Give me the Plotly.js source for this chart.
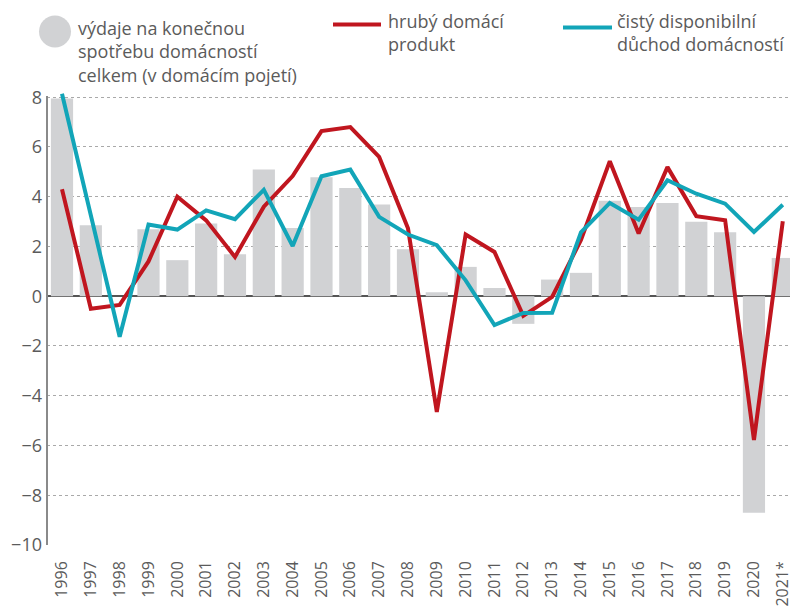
<!DOCTYPE html>
<html>
<head>
<meta charset="utf-8">
<script src="https://cdn.plot.ly/plotly-3.0.1.min.js"></script>
<style>
html,body{margin:0;padding:0;background:#fff;}
#chart{width:790px;height:606px;}
</style>
</head>
<body>
<div id="chart"></div>
<script>
const years = ['1996','1997','1998','1999','2000','2001','2002','2003','2004','2005','2006','2007','2008','2009','2010','2011','2012','2013','2014','2015','2016','2017','2018','2019','2020','2021*'];
const spending = [7.95, 2.85, 0, 2.69, 1.45, 2.92, 1.69, 5.09, 2.74, 4.78, 4.35, 3.69, 1.89, 0.16, 1.18, 0.33, -1.11, 0.67, 0.94, 3.84, 3.59, 3.75, 2.99, 2.57, -8.7, 1.54];
const gdp = [4.3, -0.5, -0.35, 1.4, 4.0, 3.05, 1.58, 3.6, 4.83, 6.64, 6.8, 5.6, 2.73, -4.65, 2.48, 1.78, -0.79, -0.03, 2.26, 5.43, 2.52, 5.19, 3.22, 3.05, -5.78, 3.01];
const income = [8.14, 3.25, -1.63, 2.88, 2.68, 3.45, 3.1, 4.28, 2.02, 4.82, 5.09, 3.19, 2.48, 2.05, 0.64, -1.16, -0.67, -0.66, 2.57, 3.75, 3.08, 4.66, 4.12, 3.72, 2.58, 3.68];
const yTicks = [-10, -8, -6, -4, -2, 0, 2, 4, 6, 8];

const legendSpending = 'výdaje na konečnou<br>spotřebu domácností<br>celkem (v domácím pojetí)';
const legendGdp = 'hrubý domácí<br>produkt';
const legendIncome = 'čistý disponibilní<br>důchod domácností';

const grey = '#d1d2d4';
const red = '#c0161f';
const cyan = '#12a5b8';
const txt = '#5b5b5b';
const FONT = 'Open Sans, sans-serif';

const traces = [
  {type:'bar', x: years, y: spending, marker:{color: grey}, showlegend:false, hoverinfo:'skip'},
  {type:'scatter', mode:'lines', x: years, y: gdp, line:{color: red, width:4}, showlegend:false, hoverinfo:'skip'},
  {type:'scatter', mode:'lines', x: years, y: income, line:{color: cyan, width:4}, showlegend:false, hoverinfo:'skip'}
];

// pixel helpers for legend placement
const L = 47, R = 790, T = 90.5, B = 545;
const px = v => (v - L) / (R - L);
const py = v => (B - v) / (B - T);

const layout = {
  width: 790, height: 606,
  margin: {l: L, r: 790 - R, t: T, b: 606 - B},
  paper_bgcolor: '#fff', plot_bgcolor: '#fff',
  font: {family: FONT, color: txt},
  bargap: 0.23,
  showlegend: false,
  hovermode: false,
  xaxis: {
    type: 'category',
    range: [-0.52, 25.25],
    tickangle: -90,
    tickfont: {size: 16, color: txt, family: FONT},
    showgrid: false, zeroline: false, showline: false,
    ticks: '', ticklabelstandoff: 12
  },
  yaxis: {
    range: [-10, 8.25],
    tickvals: yTicks,
    ticktext: yTicks.map(v => v < 0 ? '\u2212' + Math.abs(v) : String(v)),
    tickfont: {size: 18, color: txt, family: FONT},
    showgrid: true, gridcolor: '#a9a9a9', griddash: 'dot', gridwidth: 1,
    zeroline: true, zerolinecolor: '#555', zerolinewidth: 1.5,
    showline: false, ticks: '', ticklabelstandoff: 4
  },
  shapes: [
    {type:'line', xref:'paper', yref:'y', x0:0, x1:0, y0:-10, y1:8.05, line:{color:'#8a8a8a', width:2}},
    {type:'circle', xref:'paper', yref:'paper', x0:px(39), x1:px(71), y0:py(47), y1:py(15), fillcolor: grey, line:{width:0}},
    {type:'line', xref:'paper', yref:'paper', x0:px(333), x1:px(381), y0:py(24), y1:py(24), line:{color: red, width:4}},
    {type:'line', xref:'paper', yref:'paper', x0:px(563), x1:px(612), y0:py(27), y1:py(27), line:{color: cyan, width:4}}
  ],
  annotations: [
    {xref:'paper', yref:'paper', x:px(76), y:py(13), xanchor:'left', yanchor:'top', align:'left', showarrow:false,
     text: legendSpending, font:{size:18, color: txt, family: FONT}},
    {xref:'paper', yref:'paper', x:px(386), y:py(6), xanchor:'left', yanchor:'top', align:'left', showarrow:false,
     text: legendGdp, font:{size:18, color: txt, family: FONT}},
    {xref:'paper', yref:'paper', x:px(615), y:py(6), xanchor:'left', yanchor:'top', align:'left', showarrow:false,
     text: legendIncome, font:{size:18, color: txt, family: FONT}}
  ]
};

Plotly.newPlot('chart', traces, layout, {staticPlot: true, displayModeBar: false});
</script>
</body>
</html>
